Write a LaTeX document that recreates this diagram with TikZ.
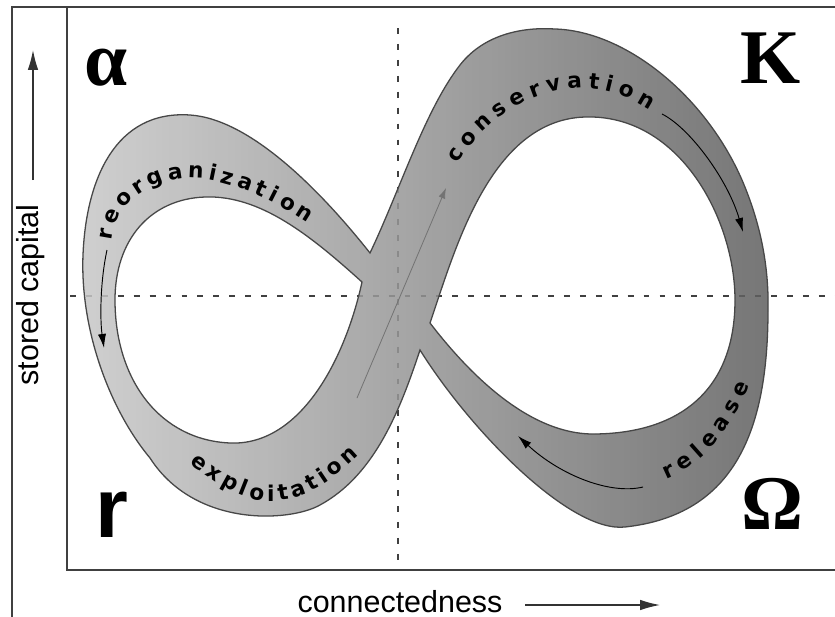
\documentclass[tikz,border=0pt]{standalone}
\usepackage{fontspec}
\usetikzlibrary{arrows.meta,decorations.text}
\newfontfamily\axisfont{Liberation Sans}
\newfontfamily\serifletters{Liberation Serif}
\newfontfamily\bandfont{DejaVu Sans}
\newcommand{\curvefont}{\bandfont\bfseries\fontsize{18.5pt}{21pt}\selectfont}

\def\bandouter{(370,253) .. controls (400,190) and (425,110) .. (460,65)
  .. controls (485,33) and (525,27) .. (555,29)
  .. controls (625,31) and (705,95) .. (742,180)
  .. controls (760,222) and (769,265) .. (768,310)
  .. controls (768,430) and (735,515) .. (625,527)
  .. controls (570,533) and (470,430) .. (420,350)
  .. controls (400,410) and (375,475) .. (320,505)
  .. controls (290,522) and (195,528) .. (150,458)
  .. controls (110,410) and (80,330) .. (83,255)
  .. controls (86,180) and (115,110) .. (190,115)
  .. controls (250,119) and (320,190) .. (370,253) -- cycle}
\def\bandleft{(362,282) .. controls (310,235) and (260,195) .. (205,197)
  .. controls (150,199) and (115,240) .. (115,300)
  .. controls (115,380) and (160,440) .. (230,443)
  .. controls (300,446) and (345,360) .. (362,282) -- cycle}
\def\bandright{(430,323) .. controls (455,250) and (490,120) .. (585,117)
  .. controls (680,114) and (735,220) .. (735,300)
  .. controls (735,390) and (680,433) .. (595,434)
  .. controls (530,435) and (470,375) .. (430,323) -- cycle}

\begin{document}
\begin{tikzpicture}[x=0.03cm, y=-0.03cm]

\tikzstyle{frame} = [draw=black!75, line width=1.3pt]
\tikzstyle{guide} = [draw=black!75, line width=1.2pt, dash pattern=on 5pt off 8.6pt]
\tikzstyle{band} = [even odd rule, left color=black!22, right color=black!63, draw=black!72, line width=1.1pt, fill opacity=0.85]
\tikzstyle{flow} = [draw=black, line width=0.8pt, -{Latex[length=12pt,width=7pt]}]
\tikzstyle{phase} = [inner sep=0pt, font=\serifletters\bfseries\fontsize{66pt}{70pt}\selectfont]
\tikzstyle{axislabel} = [inner sep=0pt, font=\axisfont\fontsize{26pt}{28pt}\selectfont]
\tikzstyle{axis} = [draw=black!80, line width=1.1pt, -{Latex[length=17pt,width=9pt]}]
\tikzset{tag/.style={decorate, decoration={text along path, text align={fit to path}, text={|\curvefont|#1}}}}

\useasboundingbox (0,0) rectangle (835,617);
\draw[frame] (12,617) -- (12,7) -- (835,7);
\draw[frame] (67,7) -- (67,570) -- (835,570);
\draw[guide] (398,28) -- (398,565);
\draw[guide] (70,296) -- (835,296);

\shadedraw[band] \bandouter \bandleft \bandright;

\path[tag=reorganization] (112,241) .. controls (117,190) and (170,172) .. (210,180) .. controls (250,188) and (280,205) .. (308,223);
\path[tag=conservation] (458,164) .. controls (490,110) and (540,90) .. (575,88) .. controls (610,87) and (630,98) .. (650,110);
\path[tag=exploitation] (190,463) .. controls (230,495) and (255,505) .. (285,500) .. controls (320,492) and (340,472) .. (359,455);
\path[tag=release] (666,479) .. controls (700,465) and (725,440) .. (750,385);

\draw[flow] (107,250) .. controls (100,282) and (100,320) .. (104,348);
\draw[flow] (662,114) .. controls (690,128) and (728,180) .. (743,232);
\draw[flow] (643,487) .. controls (610,495) and (560,475) .. (518,436);
\draw[draw=black!55, line width=0.7pt, -{Latex[length=9pt,width=6pt]}] (357,398) -- (446,188);

\node (alpha) [phase] at (106,68) {α};
\node (kappa) [phase] at (771,58) {K};
\node (omega) [phase] at (772,504) {Ω};
\node (rletter) [inner sep=0pt, font=\axisfont\bfseries\fontsize{72pt}{76pt}\selectfont] at (112,515) {r};

\node (ylabel) [axislabel, rotate=90] at (31,295) {stored capital};
\node (xlabel) [axislabel, anchor=base] at (400,612) {connectedness};
\coordinate (ytail) at (33,180);
\coordinate (ytip) at (33,50);
\draw[axis] (ytail) -- (ytip);
\coordinate (xtail) at (525,605);
\coordinate (xtip) at (660,605);
\draw[axis] (xtail) -- (xtip);
\end{tikzpicture}
\end{document}
